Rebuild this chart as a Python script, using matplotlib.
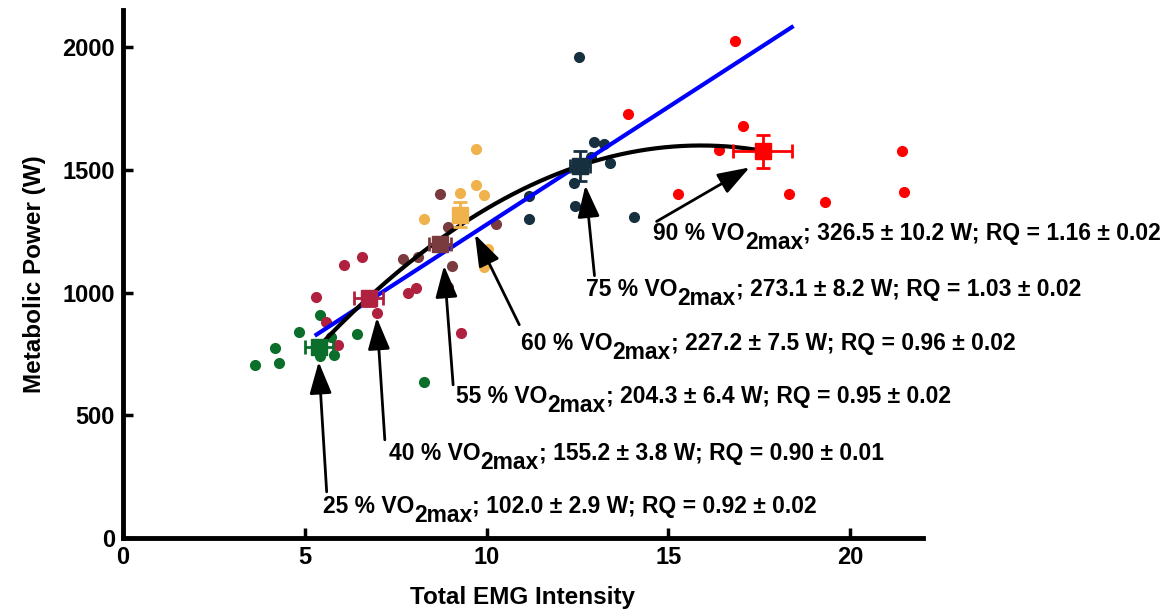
import numpy as np
import matplotlib
matplotlib.use('Agg')
import matplotlib.pyplot as plt

plt.rcParams['font.family'] = ['Liberation Sans', 'DejaVu Sans']
plt.rcParams['font.weight'] = 'bold'

# intensity groups
groups = ['25', '40', '55', '60', '75', '90']
colors = ['#0b6e2a', '#b0213f', '#7a3b3e', '#f0b24c', '#17303f', '#ff0000']

# individual subjects (EMG, metabolic power W)
pts_x = [
    [3.64, 4.30, 4.17, 4.83, 5.43, 5.71, 5.79, 5.41, 6.43, 8.28],
    [5.30, 6.07, 6.57, 5.57, 5.90, 6.98, 7.83, 8.06, 9.30],
    [8.72, 7.70, 8.11, 9.05, 10.26, 8.94, 8.94],
    [9.71, 9.71, 9.27, 9.93, 8.28, 10.04, 9.93],
    [12.55, 12.97, 13.24, 12.88, 13.41, 12.41, 12.44, 14.07, 11.17, 11.17],
    [13.90, 17.07, 16.41, 21.43, 15.28, 16.55, 18.32, 19.31, 21.49, 16.83],
]
pts_y = [
    [706, 714, 776, 841, 910, 820, 747, 743, 833, 637],
    [980, 1114, 1147, 882, 788, 918, 1000, 1020, 837],
    [1400, 1135, 1147, 1110, 1278, 1269, 1024],
    [1584, 1437, 1404, 1396, 1298, 1176, 1106],
    [1959, 1612, 1604, 1551, 1527, 1445, 1351, 1310, 1392, 1298],
    [1727, 1678, 1580, 1576, 1400, 1461, 1400, 1371, 1408, 2024],
]

# group means and errors
mean_x = [5.38, 6.76, 8.72, 9.27, 12.58, 17.60]
mean_y = [780, 976, 1196, 1318, 1514, 1575]
err_x = [0.39, 0.40, 0.30, 0.20, 0.28, 0.81]
err_y = [25, 30, 25, 50, 61, 67]

# fits
lin_coef = [95.8, 319.0]
lin_range = [5.32, 18.4]
quad_coef = [-7.41, 235.6, -273.3]
quad_range = [5.38, 17.6]

power_txt = ['102.0 ± 2.9', '155.2 ± 3.8', '204.3 ± 6.4', '227.2 ± 7.5', '273.1 ± 8.2', '326.5 ± 10.2']
rq_txt = ['0.92 ± 0.02', '0.90 ± 0.01', '0.95 ± 0.02', '0.96 ± 0.02', '1.03 ± 0.02', '1.16 ± 0.02']

label_pos = [(5.49, 102), (7.31, 318), (9.16, 551), (10.95, 767), (12.74, 988), (14.59, 1216)]
arrow_tail = [(5.60, 188), (7.20, 400), (9.08, 624), (10.90, 869), (12.97, 1069), (14.68, 1290)]
arrow_tip = [(5.38, 718), (6.98, 898), (8.83, 1110), (9.68, 1237), (12.72, 1437), (17.24, 1510)]

fig = plt.figure(figsize=(11.62, 6.12), dpi=100)
ax = fig.add_axes([0.106, 0.121, 0.688, 0.862])

for i in range(len(groups)):
    ax.plot(pts_x[i], pts_y[i], 'o', color=colors[i], markersize=7, zorder=2)

xl = np.linspace(lin_range[0], lin_range[1], 50)
ax.plot(xl, np.polyval(lin_coef, xl), color='#0000ff', lw=3, zorder=3)
xq = np.linspace(quad_range[0], quad_range[1], 200)
ax.plot(xq, np.polyval(quad_coef, xq), color='k', lw=3, zorder=3)

for i in range(len(groups)):
    ax.errorbar(mean_x[i], mean_y[i], xerr=err_x[i], yerr=err_y[i], fmt='s',
                color=colors[i], markersize=11, elinewidth=2, capsize=5, capthick=2, zorder=4)

fs = 16.5
sub = 6.5
for i, g in enumerate(groups):
    t1 = ax.text(label_pos[i][0], label_pos[i][1], g + ' % VO', fontsize=fs,
                 fontweight='bold', va='baseline', ha='left', zorder=5)
    t2 = ax.annotate('2max', xy=(1, 0), xycoords=t1, xytext=(0, -sub),
                     textcoords='offset points', fontsize=fs, fontweight='bold',
                     va='bottom', ha='left', zorder=5)
    ax.annotate('; ' + power_txt[i] + ' W; RQ = ' + rq_txt[i], xy=(1, 0), xycoords=t2,
                xytext=(0, sub), textcoords='offset points', fontsize=fs,
                fontweight='bold', va='bottom', ha='left', zorder=5)
    ax.annotate('', xy=arrow_tip[i], xytext=arrow_tail[i],
                arrowprops=dict(arrowstyle='-|>,head_length=1.3,head_width=0.45',
                                mutation_scale=15, lw=2, color='k', shrinkA=0, shrinkB=0),
                zorder=5)

ax.set_xlim(0, 22)
ax.set_ylim(0, 2150)
ax.set_xticks([0, 5, 10, 15, 20])
ax.set_yticks([0, 500, 1000, 1500, 2000])
for sp in ['top', 'right']:
    ax.spines[sp].set_visible(False)
for sp in ['left', 'bottom']:
    ax.spines[sp].set_linewidth(3.5)
ax.tick_params(direction='in', length=7, width=2.5, labelsize=17, pad=6)
for t in ax.get_xticklabels() + ax.get_yticklabels():
    t.set_fontweight('bold')
ax.set_xlabel('Total EMG Intensity', fontsize=17.5, fontweight='bold', labelpad=12)
ax.set_ylabel('Metabolic Power (W)', fontsize=17.5, fontweight='bold', labelpad=12)

fig.savefig('out.png', dpi=100)
